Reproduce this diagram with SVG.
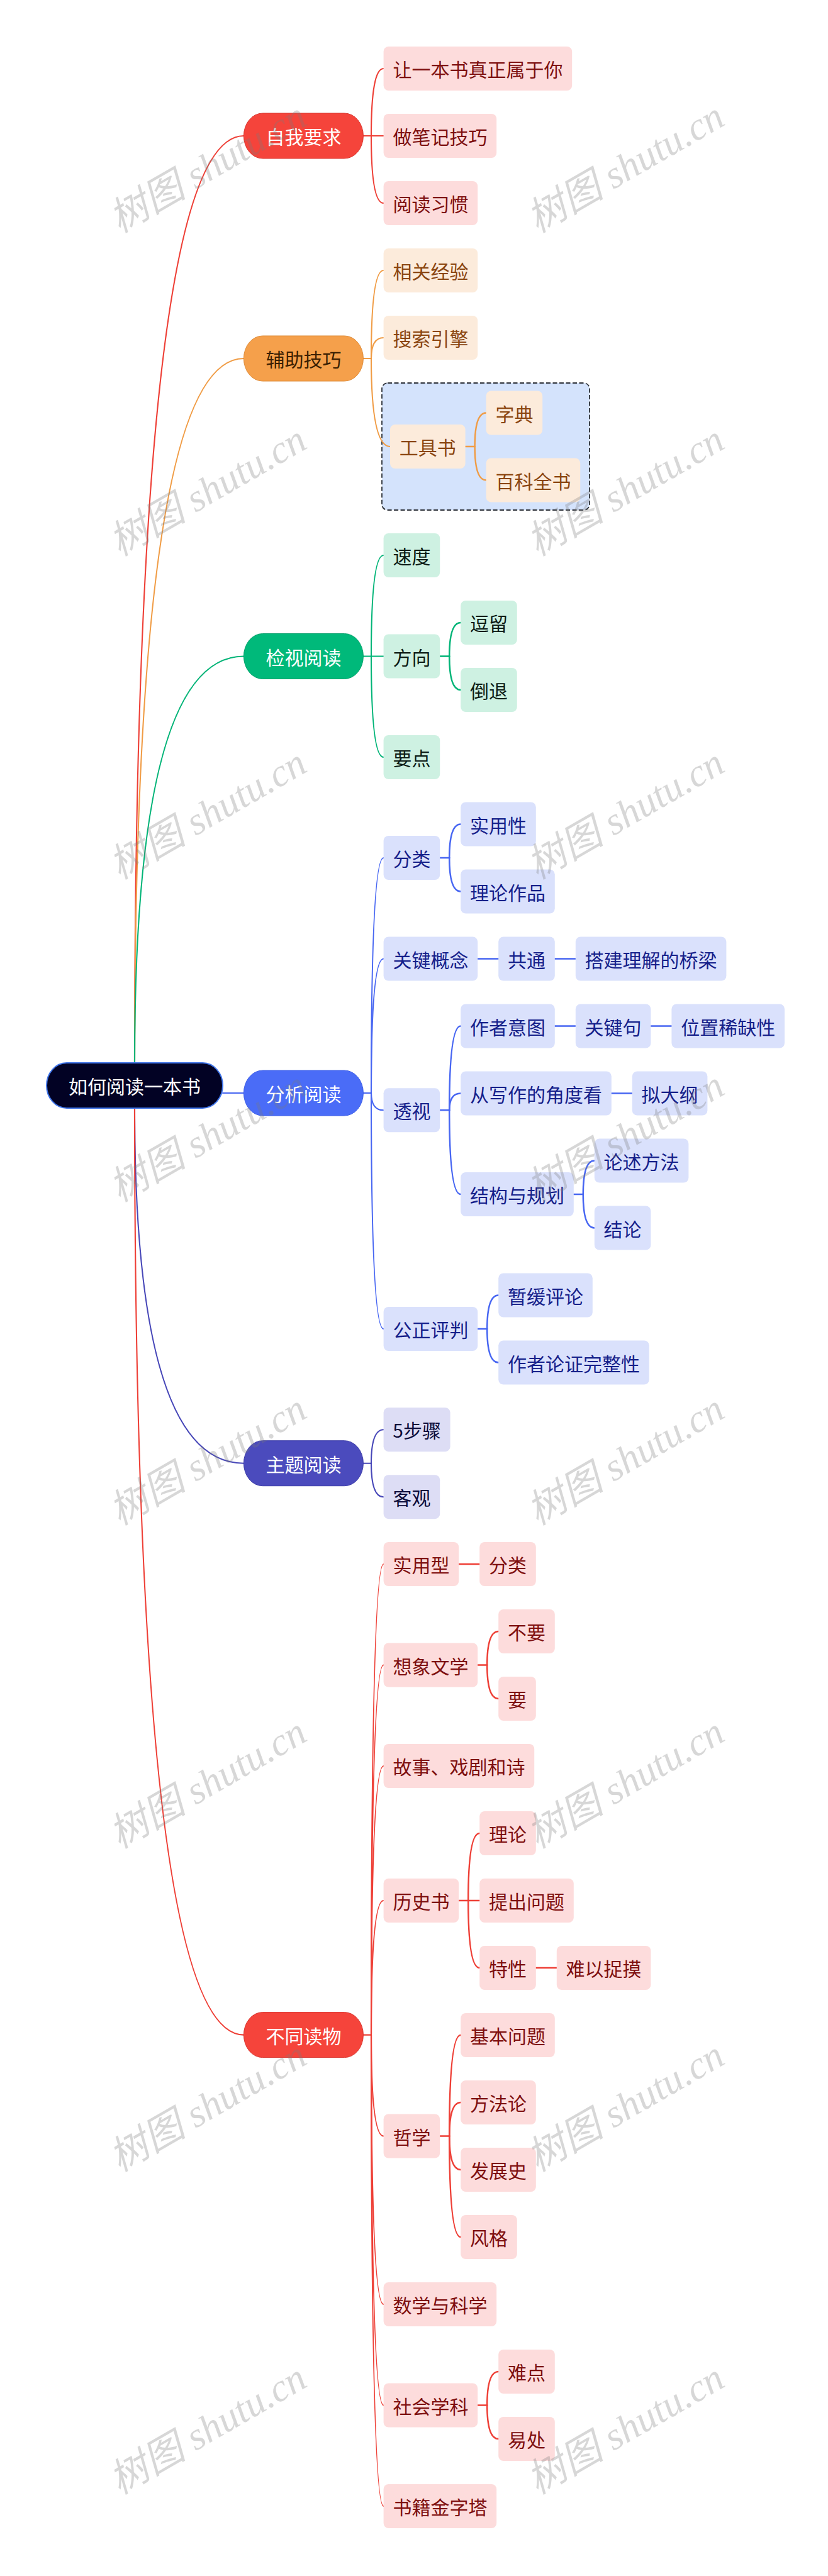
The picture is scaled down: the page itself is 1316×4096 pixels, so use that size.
<svg xmlns="http://www.w3.org/2000/svg" width="1316" height="4096" viewBox="0 0 1316 4096">
<style>
text{font-family:"Noto Sans CJK SC","Noto Sans",sans-serif;font-size:30px;text-anchor:middle;dominant-baseline:central}
.n rect{rx:8px;ry:8px}
.t rect{rx:30px;ry:36px;stroke-width:1}
#connectors path{fill:none;stroke-linecap:round}
.c1{stroke-width:2.1}
.c2{stroke-width:2.5}
.red{stroke:#EE3F36}
.org{stroke:#F09C45}
.grn{stroke:#00B477}
.blu{stroke:#4766F2}
.ind{stroke:#4747B8}
.tr rect{fill:#F5443B;stroke:#D9362F}.tr text{fill:#fff}
.to rect{fill:#F5A04B;stroke:#DE8C3A}.to text{fill:#3A1F02}
.tg rect{fill:#00B97A;stroke:#00A06A}.tg text{fill:#fff}
.tb rect{fill:#4A6CF7;stroke:#3C5EE6}.tb text{fill:#fff}
.ti rect{fill:#4B4BBD;stroke:#3E3EA8}.ti text{fill:#fff}
.nr rect{fill:#FDDCDC}.nr text{fill:#7E0F0F}
.no rect{fill:#FCEBDB}.no text{fill:#8A4510}
.ng rect{fill:#CEF1E2}.ng text{fill:#0B1A14}
.nb rect{fill:#DAE1FC}.nb text{fill:#15208A}
.ni rect{fill:#DDDDF5}.ni text{fill:#0C0C3A}
.wm text{font-family:"Liberation Serif","Noto Sans CJK SC",serif;font-style:italic;font-size:62px;fill:#7a7a7a;fill-opacity:0.3}
</style>
<rect width="1316" height="4096" fill="#fff"/>

<g id="group-toolbook">
<rect x="607" y="609" width="330" height="202" rx="9" fill="#D4E3FC" stroke="#2D3139" stroke-width="1.8" stroke-dasharray="7 3.5"/>
</g>

<g id="connectors">
<path class="c1 red" d="M214 1690 Q214 216 387.4 216"/>
<path class="c1 org" d="M214 1690 Q214 570 387.4 570"/>
<path class="c1 grn" d="M214 1690 Q214 1043.5 387.4 1043.5"/>
<path class="c1 blu" d="M354 1738 H387.4"/>
<path class="c1 ind" d="M214 1762 Q214 2326.7 387.4 2326.7"/>
<path class="c1 red" d="M214 1762 Q214 3235.6 387.4 3235.6"/>
<path class="c1 red" d="M577.4 216 H609.6"/>
<path class="c1 red" d="M590 216 Q590 109 609.6 109"/>
<path class="c1 red" d="M590 216 Q590 323 609.6 323"/>
<path class="c1 org" d="M577.4 570 H590"/>
<path class="c1 org" d="M590 570 Q590 430 609.6 430"/>
<path class="c1 org" d="M590 570 Q590 537 609.6 537"/>
<path class="c1 org" d="M590 570 Q590 710 620 710"/>
<path class="c2 org" d="M739.6 710 H754.6"/>
<path class="c2 org" d="M754.6 710 Q754.6 656.5 772.6 656.5"/>
<path class="c2 org" d="M754.6 710 Q754.6 763.5 772.6 763.5"/>
<path class="c1 grn" d="M577.4 1043.5 H609.6"/>
<path class="c1 grn" d="M590 1043.5 Q590 883 609.6 883"/>
<path class="c1 grn" d="M590 1043.5 Q590 1204 609.6 1204"/>
<path class="c2 grn" d="M699.2 1043.5 H714.2"/>
<path class="c2 grn" d="M714.2 1043.5 Q714.2 990 732.2 990"/>
<path class="c2 grn" d="M714.2 1043.5 Q714.2 1097 732.2 1097"/>
<path class="c1 blu" d="M577.4 1738 H590"/>
<path class="c1 blu" d="M590 1738 Q590 1364 609.6 1364"/>
<path class="c1 blu" d="M590 1738 Q590 1524.5 609.6 1524.5"/>
<path class="c1 blu" d="M590 1738 Q590 1765.3 609.6 1765.3"/>
<path class="c1 blu" d="M590 1738 Q590 2113 609.6 2113"/>
<path class="c2 blu" d="M699.2 1364 H714.2"/>
<path class="c2 blu" d="M714.2 1364 Q714.2 1310.5 732.2 1310.5"/>
<path class="c2 blu" d="M714.2 1364 Q714.2 1417.5 732.2 1417.5"/>
<path class="c2 blu" d="M759.2 1524.5 H792.2"/>
<path class="c2 blu" d="M881.8 1524.5 H914.8"/>
<path class="c2 blu" d="M699.2 1765.3 H714.2"/>
<path class="c2 blu" d="M714.2 1765.3 Q714.2 1631.5 732.2 1631.5"/>
<path class="c2 blu" d="M714.2 1765.3 Q714.2 1738.5 732.2 1738.5"/>
<path class="c2 blu" d="M714.2 1765.3 Q714.2 1899 732.2 1899"/>
<path class="c2 blu" d="M881.8 1631.5 H914.8"/>
<path class="c2 blu" d="M1034.4 1631.5 H1067.4"/>
<path class="c2 blu" d="M971.8 1738.5 H1004.8"/>
<path class="c2 blu" d="M911.8 1899 H926.8"/>
<path class="c2 blu" d="M926.8 1899 Q926.8 1845.5 944.8 1845.5"/>
<path class="c2 blu" d="M926.8 1899 Q926.8 1952.5 944.8 1952.5"/>
<path class="c2 blu" d="M759.2 2113 H774.2"/>
<path class="c2 blu" d="M774.2 2113 Q774.2 2059.5 792.2 2059.5"/>
<path class="c2 blu" d="M774.2 2113 Q774.2 2166.5 792.2 2166.5"/>
<path class="c1 ind" d="M577.4 2326.7 H590"/>
<path class="c1 ind" d="M590 2326.7 Q590 2273.2 609.6 2273.2"/>
<path class="c1 ind" d="M590 2326.7 Q590 2380.2 609.6 2380.2"/>
<path class="c1 red" d="M577.4 3235.6 H590"/>
<path class="c1 red" d="M590 3235.6 Q590 2487 609.6 2487"/>
<path class="c1 red" d="M590 3235.6 Q590 2647.5 609.6 2647.5"/>
<path class="c1 red" d="M590 3235.6 Q590 2808 609.6 2808"/>
<path class="c1 red" d="M590 3235.6 Q590 3022 609.6 3022"/>
<path class="c1 red" d="M590 3235.6 Q590 3396.5 609.6 3396.5"/>
<path class="c1 red" d="M590 3235.6 Q590 3664 609.6 3664"/>
<path class="c1 red" d="M590 3235.6 Q590 3824.5 609.6 3824.5"/>
<path class="c1 red" d="M590 3235.6 Q590 3985 609.6 3985"/>
<path class="c2 red" d="M729.2 2487 H762.2"/>
<path class="c2 red" d="M759.2 2647.5 H774.2"/>
<path class="c2 red" d="M774.2 2647.5 Q774.2 2594 792.2 2594"/>
<path class="c2 red" d="M774.2 2647.5 Q774.2 2701 792.2 2701"/>
<path class="c2 red" d="M729.2 3022 H762.2"/>
<path class="c2 red" d="M744.2 3022 Q744.2 2915 762.2 2915"/>
<path class="c2 red" d="M744.2 3022 Q744.2 3129 762.2 3129"/>
<path class="c2 red" d="M851.8 3129 H884.8"/>
<path class="c2 red" d="M699.2 3396.5 H714.2"/>
<path class="c2 red" d="M714.2 3396.5 Q714.2 3236 732.2 3236"/>
<path class="c2 red" d="M714.2 3396.5 Q714.2 3343 732.2 3343"/>
<path class="c2 red" d="M714.2 3396.5 Q714.2 3450 732.2 3450"/>
<path class="c2 red" d="M714.2 3396.5 Q714.2 3557 732.2 3557"/>
<path class="c2 red" d="M759.2 3824.5 H774.2"/>
<path class="c2 red" d="M774.2 3824.5 Q774.2 3771 792.2 3771"/>
<path class="c2 red" d="M774.2 3824.5 Q774.2 3878 792.2 3878"/>
</g>

<g id="root"><rect x="74" y="1690" width="280" height="72" rx="32" ry="36" fill="#020224" stroke="#3E73E8" stroke-width="2"/><text x="214" y="1726" fill="#fff">如何阅读一本书</text></g>

<g id="t-ziwo" class="t tr"><rect x="387.4" y="180" width="190" height="72"/><text x="482.4" y="216">自我要求</text></g>
<g id="t-fuzhu" class="t to"><rect x="387.4" y="534" width="190" height="72"/><text x="482.4" y="570">辅助技巧</text></g>
<g id="t-jianshi" class="t tg"><rect x="387.4" y="1007.5" width="190" height="72"/><text x="482.4" y="1043.5">检视阅读</text></g>
<g id="t-fenxi" class="t tb"><rect x="387.4" y="1702" width="190" height="72"/><text x="482.4" y="1738">分析阅读</text></g>
<g id="t-zhuti" class="t ti"><rect x="387.4" y="2290.7" width="190" height="72"/><text x="482.4" y="2326.7">主题阅读</text></g>
<g id="t-butong" class="t tr"><rect x="387.4" y="3199.6" width="190" height="72"/><text x="482.4" y="3235.6">不同读物</text></g>

<g id="n-rang" class="n nr"><rect x="609.6" y="74" width="299.6" height="70"/><text x="759.4" y="109">让一本书真正属于你</text></g>
<g id="n-biji" class="n nr"><rect x="609.6" y="181" width="179.6" height="70"/><text x="699.4" y="216">做笔记技巧</text></g>
<g id="n-xiguan" class="n nr"><rect x="609.6" y="288" width="149.6" height="70"/><text x="684.4" y="323">阅读习惯</text></g>

<g id="n-jingyan" class="n no"><rect x="609.6" y="395" width="149.6" height="70"/><text x="684.4" y="430">相关经验</text></g>
<g id="n-sousuo" class="n no"><rect x="609.6" y="502" width="149.6" height="70"/><text x="684.4" y="537">搜索引擎</text></g>
<g id="n-gongju" class="n no"><rect x="620" y="675" width="119.6" height="70"/><text x="679.8" y="710">工具书</text></g>
<g id="n-zidian" class="n no"><rect x="772.6" y="621.5" width="89.6" height="70"/><text x="817.4" y="656.5">字典</text></g>
<g id="n-baike" class="n no"><rect x="772.6" y="728.5" width="149.6" height="70"/><text x="847.4" y="763.5">百科全书</text></g>

<g id="n-sudu" class="n ng"><rect x="609.6" y="848" width="89.6" height="70"/><text x="654.4" y="883">速度</text></g>
<g id="n-fangxiang" class="n ng"><rect x="609.6" y="1008.5" width="89.6" height="70"/><text x="654.4" y="1043.5">方向</text></g>
<g id="n-douliu" class="n ng"><rect x="732.2" y="955" width="89.6" height="70"/><text x="777" y="990">逗留</text></g>
<g id="n-daotui" class="n ng"><rect x="732.2" y="1062" width="89.6" height="70"/><text x="777" y="1097">倒退</text></g>
<g id="n-yaodian" class="n ng"><rect x="609.6" y="1169" width="89.6" height="70"/><text x="654.4" y="1204">要点</text></g>

<g id="n-fenlei" class="n nb"><rect x="609.6" y="1329" width="89.6" height="70"/><text x="654.4" y="1364">分类</text></g>
<g id="n-shiyongxing" class="n nb"><rect x="732.2" y="1275.5" width="119.6" height="70"/><text x="792" y="1310.5">实用性</text></g>
<g id="n-lilunzuopin" class="n nb"><rect x="732.2" y="1382.5" width="149.6" height="70"/><text x="807" y="1417.5">理论作品</text></g>
<g id="n-guanjiangainian" class="n nb"><rect x="609.6" y="1489.5" width="149.6" height="70"/><text x="684.4" y="1524.5">关键概念</text></g>
<g id="n-gongtong" class="n nb"><rect x="792.2" y="1489.5" width="89.6" height="70"/><text x="837" y="1524.5">共通</text></g>
<g id="n-dajian" class="n nb"><rect x="914.8" y="1489.5" width="239.6" height="70"/><text x="1034.6" y="1524.5">搭建理解的桥梁</text></g>
<g id="n-toushi" class="n nb"><rect x="609.6" y="1730.3" width="89.6" height="70"/><text x="654.4" y="1765.3">透视</text></g>
<g id="n-yitu" class="n nb"><rect x="732.2" y="1596.5" width="149.6" height="70"/><text x="807" y="1631.5">作者意图</text></g>
<g id="n-guanjianju" class="n nb"><rect x="914.8" y="1596.5" width="119.6" height="70"/><text x="974.6" y="1631.5">关键句</text></g>
<g id="n-weizhi" class="n nb"><rect x="1067.4" y="1596.5" width="179.6" height="70"/><text x="1157.2" y="1631.5">位置稀缺性</text></g>
<g id="n-xiezuo" class="n nb"><rect x="732.2" y="1703.5" width="239.6" height="70"/><text x="852" y="1738.5">从写作的角度看</text></g>
<g id="n-nidagang" class="n nb"><rect x="1004.8" y="1703.5" width="119.6" height="70"/><text x="1064.6" y="1738.5">拟大纲</text></g>
<g id="n-jiegou" class="n nb"><rect x="732.2" y="1864" width="179.6" height="70"/><text x="822" y="1899">结构与规划</text></g>
<g id="n-lunshu" class="n nb"><rect x="944.8" y="1810.5" width="149.6" height="70"/><text x="1019.6" y="1845.5">论述方法</text></g>
<g id="n-jielun" class="n nb"><rect x="944.8" y="1917.5" width="89.6" height="70"/><text x="989.6" y="1952.5">结论</text></g>
<g id="n-gongzheng" class="n nb"><rect x="609.6" y="2078" width="149.6" height="70"/><text x="684.4" y="2113">公正评判</text></g>
<g id="n-zanhuan" class="n nb"><rect x="792.2" y="2024.5" width="149.6" height="70"/><text x="867" y="2059.5">暂缓评论</text></g>
<g id="n-wanzheng" class="n nb"><rect x="792.2" y="2131.5" width="239.6" height="70"/><text x="912" y="2166.5">作者论证完整性</text></g>

<g id="n-wubuzhou" class="n ni"><rect x="609.6" y="2238.2" width="106" height="70"/><text x="662.6" y="2273.2">5步骤</text></g>
<g id="n-keguan" class="n ni"><rect x="609.6" y="2345.2" width="89.6" height="70"/><text x="654.4" y="2380.2">客观</text></g>

<g id="n-shiyongxing2" class="n nr"><rect x="609.6" y="2452" width="119.6" height="70"/><text x="669.4" y="2487">实用型</text></g>
<g id="n-fenlei2" class="n nr"><rect x="762.2" y="2452" width="89.6" height="70"/><text x="807" y="2487">分类</text></g>
<g id="n-xiangxiang" class="n nr"><rect x="609.6" y="2612.5" width="149.6" height="70"/><text x="684.4" y="2647.5">想象文学</text></g>
<g id="n-buyao" class="n nr"><rect x="792.2" y="2559" width="89.6" height="70"/><text x="837" y="2594">不要</text></g>
<g id="n-yao" class="n nr"><rect x="792.2" y="2666" width="59.6" height="70"/><text x="822" y="2701">要</text></g>
<g id="n-gushi" class="n nr"><rect x="609.6" y="2773" width="239.6" height="70"/><text x="729.4" y="2808">故事、戏剧和诗</text></g>
<g id="n-lishi" class="n nr"><rect x="609.6" y="2987" width="119.6" height="70"/><text x="669.4" y="3022">历史书</text></g>
<g id="n-lilun" class="n nr"><rect x="762.2" y="2880" width="89.6" height="70"/><text x="807" y="2915">理论</text></g>
<g id="n-tichu" class="n nr"><rect x="762.2" y="2987" width="149.6" height="70"/><text x="837" y="3022">提出问题</text></g>
<g id="n-texing" class="n nr"><rect x="762.2" y="3094" width="89.6" height="70"/><text x="807" y="3129">特性</text></g>
<g id="n-nanyi" class="n nr"><rect x="884.8" y="3094" width="149.6" height="70"/><text x="959.6" y="3129">难以捉摸</text></g>
<g id="n-zhexue" class="n nr"><rect x="609.6" y="3361.5" width="89.6" height="70"/><text x="654.4" y="3396.5">哲学</text></g>
<g id="n-jiben" class="n nr"><rect x="732.2" y="3201" width="149.6" height="70"/><text x="807" y="3236">基本问题</text></g>
<g id="n-fangfa" class="n nr"><rect x="732.2" y="3308" width="119.6" height="70"/><text x="792" y="3343">方法论</text></g>
<g id="n-fazhan" class="n nr"><rect x="732.2" y="3415" width="119.6" height="70"/><text x="792" y="3450">发展史</text></g>
<g id="n-fengge" class="n nr"><rect x="732.2" y="3522" width="89.6" height="70"/><text x="777" y="3557">风格</text></g>
<g id="n-shuxue" class="n nr"><rect x="609.6" y="3629" width="179.6" height="70"/><text x="699.4" y="3664">数学与科学</text></g>
<g id="n-shehui" class="n nr"><rect x="609.6" y="3789.5" width="149.6" height="70"/><text x="684.4" y="3824.5">社会学科</text></g>
<g id="n-nandian" class="n nr"><rect x="792.2" y="3736" width="89.6" height="70"/><text x="837" y="3771">难点</text></g>
<g id="n-yichu" class="n nr"><rect x="792.2" y="3843" width="89.6" height="70"/><text x="837" y="3878">易处</text></g>
<g id="n-jinzita" class="n nr"><rect x="609.6" y="3950" width="179.6" height="70"/><text x="699.4" y="3985">书籍金字塔</text></g>

<g id="watermarks" class="wm">
<text transform="translate(330 266) rotate(-30)">树图 shutu.cn</text>
<text transform="translate(994 266) rotate(-30)">树图 shutu.cn</text>
<text transform="translate(330 780) rotate(-30)">树图 shutu.cn</text>
<text transform="translate(994 780) rotate(-30)">树图 shutu.cn</text>
<text transform="translate(330 1294) rotate(-30)">树图 shutu.cn</text>
<text transform="translate(994 1294) rotate(-30)">树图 shutu.cn</text>
<text transform="translate(330 1807) rotate(-30)">树图 shutu.cn</text>
<text transform="translate(994 1807) rotate(-30)">树图 shutu.cn</text>
<text transform="translate(330 2321) rotate(-30)">树图 shutu.cn</text>
<text transform="translate(994 2321) rotate(-30)">树图 shutu.cn</text>
<text transform="translate(330 2835) rotate(-30)">树图 shutu.cn</text>
<text transform="translate(994 2835) rotate(-30)">树图 shutu.cn</text>
<text transform="translate(330 3349) rotate(-30)">树图 shutu.cn</text>
<text transform="translate(994 3349) rotate(-30)">树图 shutu.cn</text>
<text transform="translate(330 3862) rotate(-30)">树图 shutu.cn</text>
<text transform="translate(994 3862) rotate(-30)">树图 shutu.cn</text>
</g>
</svg>
